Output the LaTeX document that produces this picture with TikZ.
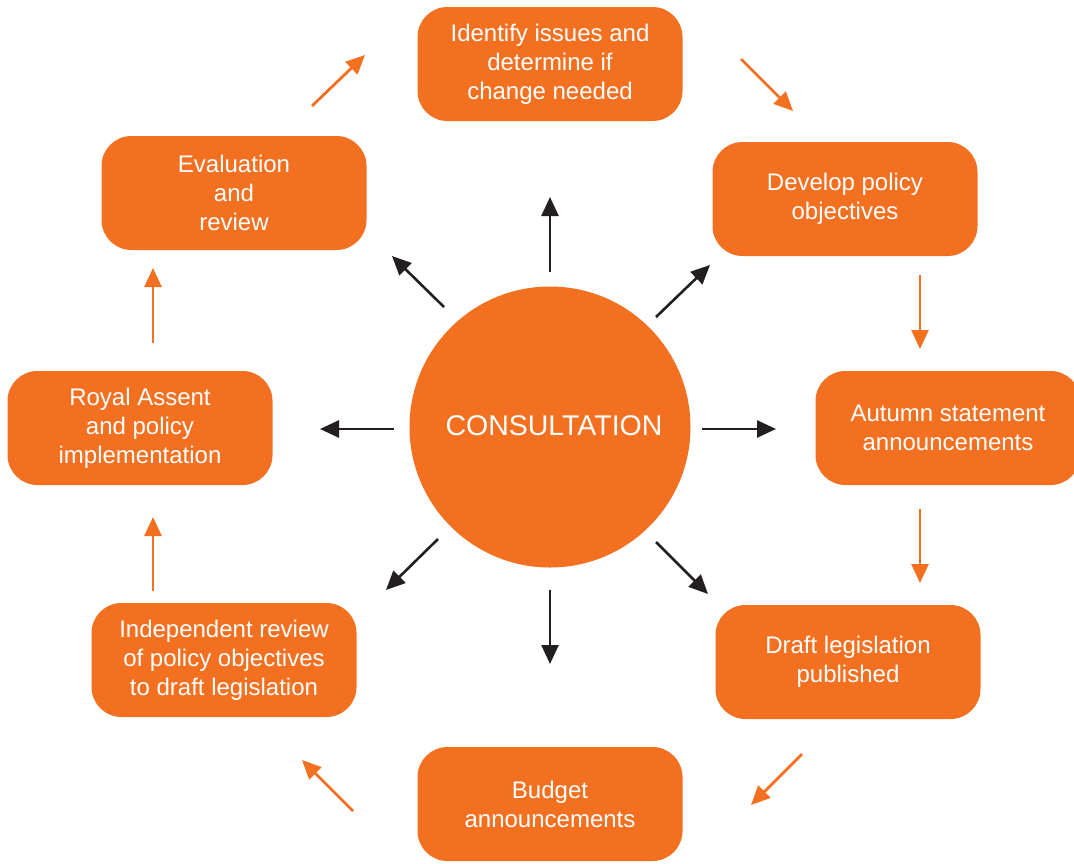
\documentclass[tikz,border=0pt]{standalone}
\usepackage{fontspec}
\setmainfont{Liberation Sans}
\usetikzlibrary{arrows.meta}
\definecolor{policyorange}{HTML}{F37021}
\definecolor{arrowblack}{HTML}{231F20}
\begin{document}
\begin{tikzpicture}[x=1pt,y=-1pt,
  stagebox/.style={rectangle, rounded corners=30pt, fill=policyorange, draw=none,
    minimum width=265pt, minimum height=114pt, text=white, align=center,
    font=\fontsize{24}{29}\selectfont},
  hub/.style={circle, fill=policyorange, minimum size=281pt},
  hubtext/.style={text=white, font=\fontsize{28.5}{33}\selectfont},
  cyclearrow/.style={draw=policyorange, line width=2.8pt,
    -{Triangle[length=19pt,width=17pt]}},
  spokearrow/.style={draw=arrowblack, line width=2.6pt,
    -{Triangle[length=19pt,width=17pt]}}]
\clip (0,0) rectangle (1074,863);
\useasboundingbox (0,0) rectangle (1074,863);
\fill[white] (0,0) rectangle (1074,863);

% hub
\node[hub] (hubc) at (550,427) {};
\node[hubtext] (hublabel) at (554,426) {CONSULTATION};

% stages of the cycle
\node[stagebox] (ident) at (550,64) {Identify issues and\\determine if\\change needed};
\node[stagebox] (devel) at (845,199) {Develop policy\\objectives};
\node[stagebox] (autumn) at (948,428) {Autumn statement\\announcements};
\node[stagebox] (draft) at (848,662) {Draft legislation\\published};
\node[stagebox] (budget) at (550,804) {Budget\\announcements};
\node[stagebox] (indep) at (224,660) {Independent review\\of policy objectives\\to draft legislation};
\node[stagebox] (royal) at (140,428) {Royal Assent\\and policy\\implementation};
\node[stagebox] (evalr) at (234,193) {Evaluation\\and\\review};

% spoke end points
\coordinate (s1a) at (550,272); \coordinate (s1b) at (550,197);
\coordinate (s2a) at (656,317); \coordinate (s2b) at (710,265);
\coordinate (s3a) at (702,429); \coordinate (s3b) at (776,429);
\coordinate (s4a) at (656,542); \coordinate (s4b) at (708,594);
\coordinate (s5a) at (550,590); \coordinate (s5b) at (550,664);
\coordinate (s6a) at (438,539); \coordinate (s6b) at (386,590);
\coordinate (s7a) at (394,429); \coordinate (s7b) at (320,429);
\coordinate (s8a) at (444,307); \coordinate (s8b) at (392,256);

\foreach \k in {1,...,8} \draw[spokearrow] (s\k a) -- (s\k b);

% cycle arrow end points
\coordinate (c1a) at (312,106); \coordinate (c1b) at (365,55);
\coordinate (c2a) at (741,59);  \coordinate (c2b) at (793,111);
\coordinate (c3a) at (920,275); \coordinate (c3b) at (920,349);
\coordinate (c4a) at (920,509); \coordinate (c4b) at (920,583);
\coordinate (c5a) at (802,754); \coordinate (c5b) at (751,805);
\coordinate (c6a) at (353,811); \coordinate (c6b) at (302,760);
\coordinate (c7a) at (153,591); \coordinate (c7b) at (153,517);
\coordinate (c8a) at (153,343); \coordinate (c8b) at (153,268);

\foreach \k in {1,...,8} \draw[cyclearrow] (c\k a) -- (c\k b);
\end{tikzpicture}
\end{document}
